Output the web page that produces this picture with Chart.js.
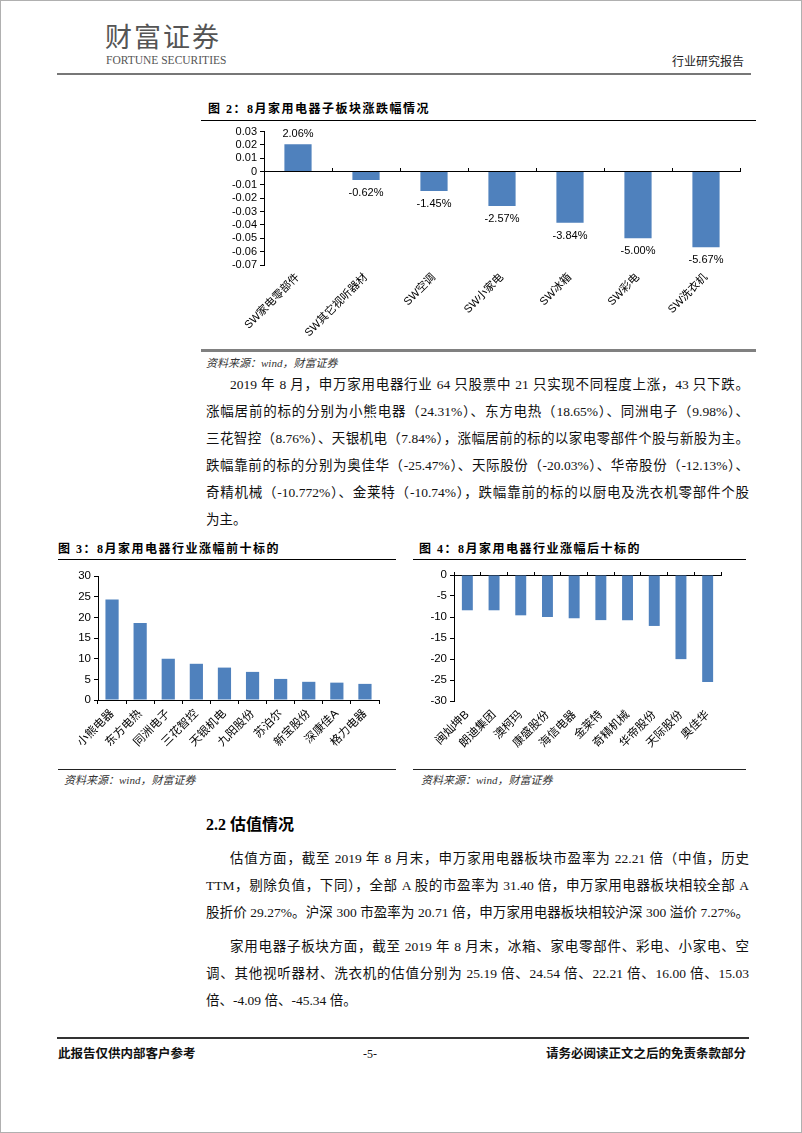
<!DOCTYPE html>
<html><head><meta charset="utf-8">
<script src="https://cdn.jsdelivr.net/npm/chart.js@4.4.0/dist/chart.umd.min.js"></script>
<style>
html,body{margin:0;padding:0;background:#fff;}
#page{position:relative;width:802px;height:1133px;overflow:hidden;background:#fff;box-sizing:border-box;border:1px solid #b0b0b0;
 font-family:"Liberation Serif","Noto Sans CJK SC",serif;color:#111;}
.a{position:absolute;white-space:nowrap;}
.ln{position:absolute;}
canvas{position:absolute;}
.title{font-family:"Liberation Serif","Noto Sans CJK SC",serif;font-weight:700;font-size:12px;line-height:14px;letter-spacing:1.5px;color:#000;}
.src{font-style:italic;font-size:11px;line-height:14px;color:#333;}
.para{position:absolute;left:205px;width:543px;font-size:13.5px;line-height:27px;color:#111;}
.para div{white-space:nowrap;text-align:justify;text-align-last:justify;}
.para div.last{text-align:left;text-align-last:left;}
.para div.ind{text-indent:24px;}
</style></head>
<body><div id="page">
<div class="a" style="left:104px;top:20px;font-family:'Noto Sans CJK SC';font-size:27px;line-height:30px;letter-spacing:2px;color:#555;">财富证券</div>
<div class="a" style="left:105px;top:52px;font-family:'Liberation Serif';font-size:11.5px;line-height:14px;color:#555;">FORTUNE SECURITIES</div>
<div class="a" style="right:57px;top:53px;font-family:'Noto Sans CJK SC';font-size:12px;line-height:14px;color:#222;">行业研究报告</div>
<div class="ln" style="left:56px;top:72px;width:694px;height:2px;background:#777;"></div>

<div class="a title" style="left:207px;top:101px;">图 2：8月家用电器子板块涨跌幅情况</div>
<div class="ln" style="left:200px;top:119px;width:555px;height:1px;background:#000;"></div>
<canvas id="c2" width="560" height="227" style="left:200px;top:121px;"></canvas>
<div class="ln" style="left:200px;top:348px;width:555px;height:3px;background:#808080;"></div>
<div class="a src" style="left:205px;top:355px;">资料来源：wind，财富证券</div>

<div class="para" style="top:370px;">
<div class="ind">2019 年 8 月，申万家用电器行业 64 只股票中 21 只实现不同程度上涨，43 只下跌。</div>
<div>涨幅居前的标的分别为小熊电器（24.31%）、东方电热（18.65%）、同洲电子（9.98%）、</div>
<div>三花智控（8.76%）、天银机电（7.84%），涨幅居前的标的以家电零部件个股与新股为主。</div>
<div>跌幅靠前的标的分别为奥佳华（-25.47%）、天际股份（-20.03%）、华帝股份（-12.13%）、</div>
<div>奇精机械（-10.772%）、金莱特（-10.74%），跌幅靠前的标的以厨电及洗衣机零部件个股</div>
<div class="last">为主。</div>
</div>

<div class="a title" style="left:57px;top:541px;">图 3：8月家用电器行业涨幅前十标的</div>
<div class="ln" style="left:57px;top:558px;width:338px;height:1px;background:#000;"></div>
<canvas id="c3" width="340" height="202" style="left:52px;top:563px;"></canvas>
<div class="ln" style="left:57px;top:768px;width:338px;height:1px;background:#222;"></div>
<div class="a src" style="left:63px;top:772px;">资料来源：wind，财富证券</div>

<div class="a title" style="left:418px;top:541px;">图 4：8月家用电器行业涨幅后十标的</div>
<div class="ln" style="left:412px;top:558px;width:333px;height:1px;background:#000;"></div>
<canvas id="c4" width="340" height="202" style="left:410px;top:563px;"></canvas>
<div class="ln" style="left:412px;top:768px;width:333px;height:1px;background:#222;"></div>
<div class="a src" style="left:420px;top:772px;">资料来源：wind，财富证券</div>

<div class="a" style="left:205px;top:814px;font-size:16px;line-height:20px;font-weight:700;color:#000;">2.2 估值情况</div>

<div class="para" style="top:844px;">
<div class="ind">估值方面，截至 2019 年 8 月末，申万家用电器板块市盈率为 22.21 倍（中值，历史</div>
<div>TTM，剔除负值，下同），全部 A 股的市盈率为 31.40 倍，申万家用电器板块相较全部 A</div>
<div>股折价 29.27%。沪深 300 市盈率为 20.71 倍，申万家用电器板块相较沪深 300 溢价 7.27%。</div>
</div>
<div class="para" style="top:932px;">
<div class="ind">家用电器子板块方面，截至 2019 年 8 月末，冰箱、家电零部件、彩电、小家电、空</div>
<div>调、其他视听器材、洗衣机的估值分别为 25.19 倍、24.54 倍、22.21 倍、16.00 倍、15.03</div>
<div class="last">倍、-4.09 倍、-45.34 倍。</div>
</div>

<div class="ln" style="left:56px;top:1036px;width:692px;height:2px;background:#333;"></div>
<div class="a" style="left:57px;top:1046px;font-size:12.5px;line-height:14px;font-weight:700;color:#111;">此报告仅供内部客户参考</div>
<div class="a" style="left:362px;top:1046px;font-size:12px;line-height:14px;color:#111;">-5-</div>
<div class="a" style="right:55px;top:1046px;font-size:12.5px;line-height:14px;font-weight:700;color:#111;">请务必阅读正文之后的免责条款部分</div>
</div>

<script>
// ---- data ----
const subSectors = ['SW家电零部件','SW其它视听器材','SW空调','SW小家电','SW冰箱','SW彩电','SW洗衣机'];
const subSectorChange = [0.0206,-0.0062,-0.0145,-0.0257,-0.0384,-0.0500,-0.0567];
const fig2Min = -0.07, fig2Max = 0.03, fig2Step = 0.01;

const topStocks = ['小熊电器','东方电热','同洲电子','三花智控','天银机电','九阳股份','苏泊尔','新宝股份','深康佳A','格力电器'];
const topStockChange = [24.31,18.65,9.98,8.76,7.84,6.8,5.1,4.4,4.2,3.9];
const fig3Min = 0, fig3Max = 30, fig3Step = 5;

const bottomStocks = ['闽灿坤B','朗迪集团','澳柯玛','康盛股份','海信电器','金莱特','奇精机械','华帝股份','天际股份','奥佳华'];
const bottomStockChange = [-8.4,-8.4,-9.6,-10.0,-10.3,-10.74,-10.772,-12.13,-20.03,-25.47];
const fig4Min = -30, fig4Max = 0, fig4Step = 5;

// ---- styling ----
const FONT = '"Liberation Sans","Noto Sans CJK SC",sans-serif';
const BAR = '#4F81BD';
Chart.defaults.font.family = FONT;
Chart.defaults.color = '#000';
Chart.defaults.animation = false;

function labelPlugin(fmt, font, above, below){
  return {
    id: 'valueLabels',
    afterDatasetsDraw(chart){
      const ctx = chart.ctx, meta = chart.getDatasetMeta(0), data = chart.data.datasets[0].data;
      ctx.save();
      ctx.font = font; ctx.fillStyle = '#000'; ctx.textAlign = 'center'; ctx.textBaseline = 'middle';
      meta.data.forEach((bar, i) => {
        const v = data[i];
        ctx.fillText(fmt(v), bar.x, v >= 0 ? bar.y - above : bar.y + below);
      });
      ctx.restore();
    }
  };
}

function yAxis(min, max, step, width, fmt, fontSize){
  return {
    min, max,
    ticks: {stepSize: step, autoSkip: false, padding: 3, font: {size: fontSize}, callback: fmt},
    grid: {display: true, drawOnChartArea: false, drawTicks: true, tickLength: 4, color: '#000'},
    border: {display: true, color: '#000', width: 1},
    afterFit: s => { s.width = width; }
  };
}
function labelAxis(height, fontSize, padding){
  return {
    offset: true,
    grid: {display: false, drawTicks: false},
    border: {display: false},
    ticks: {autoSkip: false, minRotation: 45, maxRotation: 45, padding, font: {size: fontSize}},
    afterFit: s => { s.height = height; }
  };
}
function zeroAxis(){
  return {
    type: 'category', position: {y: 0}, offset: true,
    grid: {display: true, offset: true, drawOnChartArea: false, drawTicks: true, tickLength: -4, color: '#000'},
    border: {display: true, color: '#000', width: 1},
    ticks: {display: false},
    afterFit: s => { s.height = 0; }
  };
}
const baseOpts = (padding) => ({
  responsive: false, animation: false,
  layout: {padding},
  plugins: {legend: {display: false}, tooltip: {enabled: false}, title: {display: false}}
});

// Figure 2
new Chart(document.getElementById('c2'), {
  type: 'bar',
  data: {labels: subSectors, datasets: [{data: subSectorChange, backgroundColor: BAR, barPercentage: 0.4, categoryPercentage: 1}]},
  options: Object.assign(baseOpts({left: 0, right: 21, top: 8, bottom: 0}), {
    scales: {
      x: labelAxis(84, 11, 6),
      x2: zeroAxis(),
      y: yAxis(fig2Min, fig2Max, fig2Step, 63, v => String(Number(Number(v).toFixed(2))), 11)
    }
  }),
  plugins: [labelPlugin(v => (v * 100).toFixed(2) + '%', '11px ' + FONT, 10.5, 13)]
});

// Figure 3
new Chart(document.getElementById('c3'), {
  type: 'bar',
  data: {labels: topStocks, datasets: [{data: topStockChange, backgroundColor: BAR, barPercentage: 0.47, categoryPercentage: 1}]},
  options: Object.assign(baseOpts({left: 0, right: 14, top: 12, bottom: 0}), {
    scales: {
      x: {
        offset: true,
        grid: {display: true, offset: true, drawOnChartArea: false, drawTicks: true, tickLength: 4, color: '#000'},
        border: {display: true, color: '#000', width: 1},
        ticks: {autoSkip: false, minRotation: 45, maxRotation: 45, padding: 3, font: {size: 11.5}},
        afterFit: s => { s.height = 66; }
      },
      y: yAxis(fig3Min, fig3Max, fig3Step, 45, v => String(v), 11.5)
    }
  })
});

// Figure 4
new Chart(document.getElementById('c4'), {
  type: 'bar',
  data: {labels: bottomStocks, datasets: [{data: bottomStockChange, backgroundColor: BAR, barPercentage: 0.41, categoryPercentage: 1}]},
  options: Object.assign(baseOpts({left: 0, right: 30, top: 11, bottom: 0}), {
    scales: {
      x: labelAxis(65, 11.5, 7),
      x2: zeroAxis(),
      y: yAxis(fig4Min, fig4Max, fig4Step, 43, v => String(v), 11.5)
    }
  })
});
</script>
</body></html>
